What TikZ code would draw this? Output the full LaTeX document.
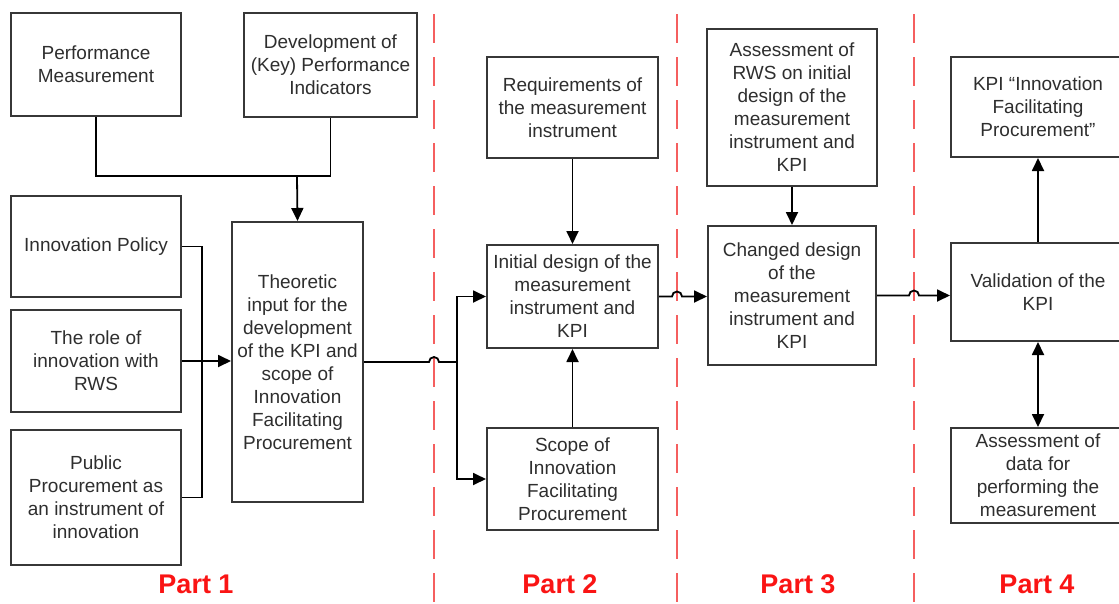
\documentclass[tikz,border=0pt]{standalone}
\usepackage{fontspec}
\setmainfont{Liberation Sans}
\usetikzlibrary{calc,arrows.meta}

\definecolor{boxline}{RGB}{55,55,55}
\definecolor{divred}{RGB}{245,95,95}
\definecolor{partred}{RGB}{250,20,20}

\begin{document}
\begin{tikzpicture}[x=1pt, y=-1pt,
  >={Triangle[length=13pt,width=12pt]},
  box/.style={draw=boxline, line width=2pt, align=center, inner sep=1pt,
    text=black!82, font=\fontsize{19}{23}\selectfont},
  link/.style={line width=1.8pt, black},
  divider/.style={divred, line width=2pt, dash pattern=on 29pt off 14pt},
  partlabel/.style={text=partred, font=\fontsize{27}{30}\selectfont\bfseries, anchor=base}]
\clip (0, 0) rectangle (1119, 603);

% dividing lines between the parts
\coordinate (d1) at (434, 14);
\coordinate (d2) at (677, 14);
\coordinate (d3) at (914, 14);
\draw [divider] (d1) -- (434, 603);
\draw [divider] (d2) -- (677, 603);
\draw [divider] (d3) -- (914, 603);

% Part 1
\node [box, minimum width=170, minimum height=103] (pm) at (96, 64.5) {Performance\\Measurement};
\node [box, minimum width=173, minimum height=104] (dkpi) at (330.5, 65) {Development of\\(Key) Performance\\Indicators};
\node [box, minimum width=170, minimum height=101] (ip) at (96, 246.5) {Innovation Policy};
\node [box, minimum width=170, minimum height=102] (role) at (96, 361) {The role of\\innovation with\\RWS};
\node [box, minimum width=170, minimum height=135] (pub) at (96, 497.5) {Public\\Procurement as\\an instrument of\\innovation};
\node [box, minimum width=131, minimum height=280] (theo) at (297.5, 362) {Theoretic\\input for the\\development\\of the KPI and\\scope of\\Innovation\\Facilitating\\Procurement};

% Part 2
\node [box, minimum width=171, minimum height=101] (req) at (572.5, 107.5) {Requirements of\\the measurement\\instrument};
\node [box, minimum width=171, minimum height=103] (init) at (572.5, 296.5) {Initial design of the\\measurement\\instrument and\\KPI};
\node [box, minimum width=171, minimum height=102] (scope) at (572.5, 479) {Scope of\\Innovation\\Facilitating\\Procurement};

% Part 3
\node [box, minimum width=170, minimum height=157] (arws) at (792, 107.5) {Assessment of\\RWS on initial\\design of the\\measurement\\instrument and\\KPI};
\node [box, minimum width=168, minimum height=139] (chg) at (792, 295.5) {Changed design\\of the\\measurement\\instrument and\\KPI};

% Part 4
\node [box, minimum width=174, minimum height=100] (kpi) at (1038, 107) {KPI “Innovation\\Facilitating\\Procurement”};
\node [box, minimum width=174, minimum height=98] (val) at (1038, 292) {Validation of the\\KPI};
\node [box, minimum width=174, minimum height=95] (adata) at (1038, 475.5) {Assessment of\\data for\\performing the\\measurement};

% connectors of part 1
\coordinate (join) at (297, 176);
\coordinate (bus) at (202, 361);
\coordinate (split) at (457, 362);
\draw [link] (pm.south) |- (join) -| (dkpi.south);
\draw [link, ->] (join) -- (theo.north);
\draw [link] (ip.east) -| (bus) |- (pub.east);
\draw [link, ->] (role.east) -- (role.east -| theo.west);

% connectors over the dividing lines
\draw [link] (theo.east) -- ($(d1 |- split) + (-5, 0)$) arc [start angle=180, end angle=0, radius=5pt] -- (split);
\draw [link, ->] (split) |- (init.west);
\draw [link, ->] (split) |- (scope.west);
\draw [link, ->] (init.east) -- ($(d2 |- init.east) + (-5, 0)$) arc [start angle=180, end angle=0, radius=5pt] -- (init.east -| chg.west);
\draw [link, ->] (chg.east) -- ($(d3 |- chg.east) + (-5, 0)$) arc [start angle=180, end angle=0, radius=5pt] -- (chg.east -| val.west);

% connectors of parts 2 to 4
\draw [link, ->] (req.south) -- (init.north);
\draw [link, ->] (scope.north) -- (init.south);
\draw [link, ->] (arws.south) -- (chg.north);
\draw [link, ->] (val.north) -- (kpi.south);
\draw [link, <->] (val.south) -- (adata.north);

% part labels
\node [partlabel] (p1) at (196, 593) {Part 1};
\node [partlabel] (p2) at (560, 593) {Part 2};
\node [partlabel] (p3) at (798, 593) {Part 3};
\node [partlabel] (p4) at (1037, 593) {Part 4};
\end{tikzpicture}
\end{document}
